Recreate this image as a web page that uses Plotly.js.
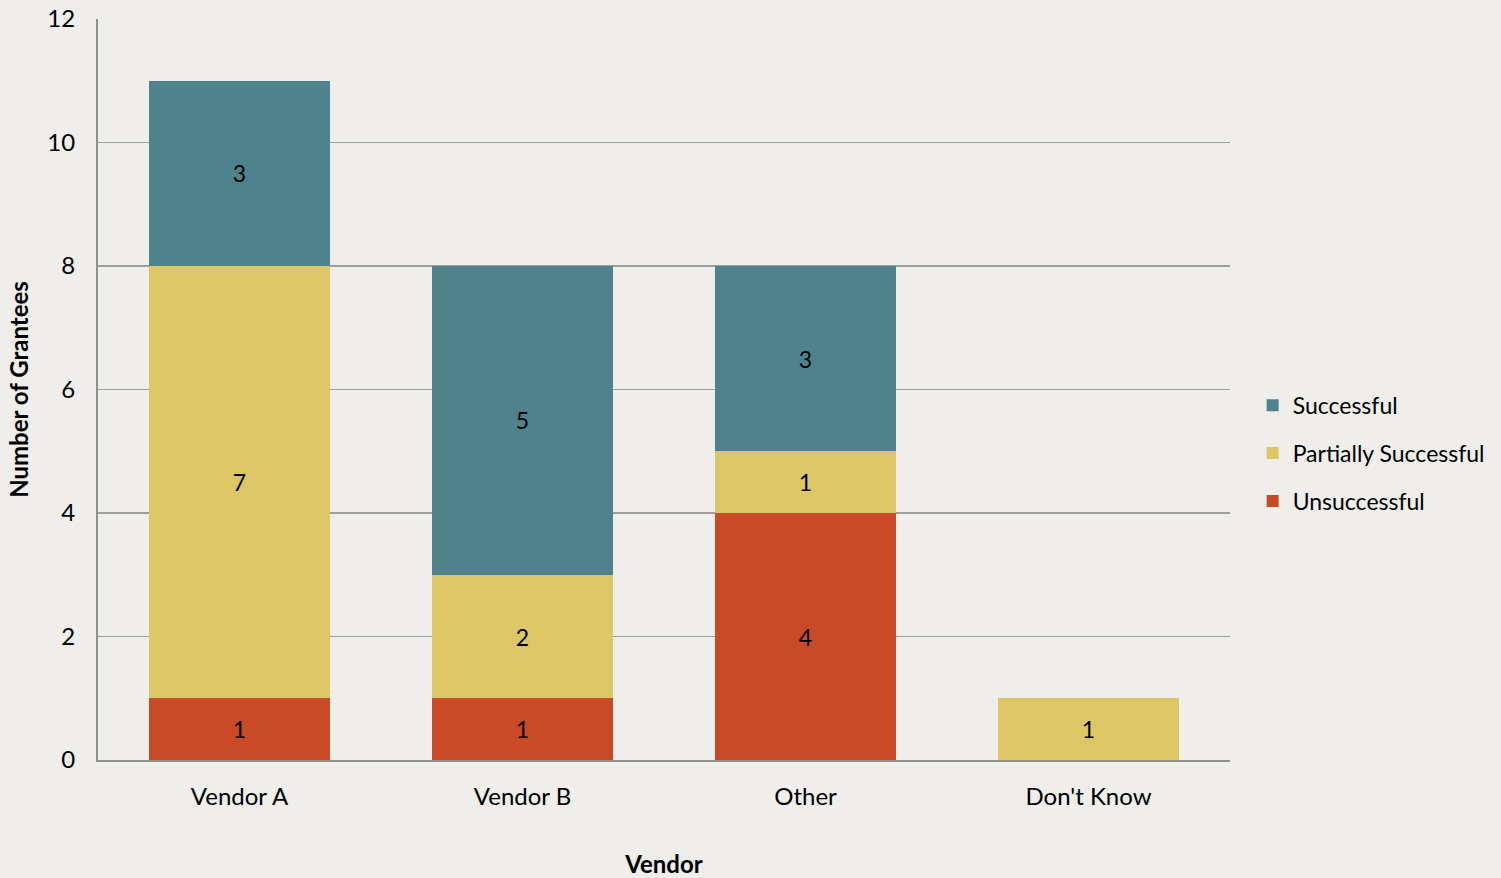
<!DOCTYPE html>
<html>
<head>
<meta charset="utf-8">
<script src="https://cdn.plot.ly/plotly-3.0.1.min.js"></script>
<style>
  html, body { margin: 0; padding: 0; background: #EFEEEA; }
  #chart { width: 1501px; height: 878px; }
</style>
</head>
<body>
<div id="chart"></div>
<script>
// Grantee outcomes by vendor
const vendors = ["Vendor A", "Vendor B", "Other", "Don't Know"];
const unsuccessful = [1, 1, 4, null];
const partiallySuccessful = [7, 2, 1, 1];
const successful = [3, 5, 3, null];
const yTicks = [0, 2, 4, 6, 8, 10, 12];

const FONT = "Lato, 'Open Sans', sans-serif";

function series(name, values, color, rank) {
  return {
    type: "bar",
    name: name,
    x: vendors,
    y: values,
    legendgroup: name,
    legendrank: rank,
    marker: { color: color, line: { width: 0 } },
    text: values.map(v => (v === null ? "" : String(v))),
    textposition: "inside",
    insidetextanchor: "middle",
    textfont: { family: FONT, size: 23, color: "#000000" },
    constraintext: "none",
    hoverinfo: "x+y+name"
  };
}

const data = [
  series("Unsuccessful", unsuccessful, "#C94A27", 3),
  series("Partially Successful", partiallySuccessful, "#DDC665", 2),
  series("Successful", successful, "#4E828C", 1)
];

const layout = {
  width: 1501,
  height: 878,
  paper_bgcolor: "#EFEEEA",
  plot_bgcolor: "#EFEEEA",
  barmode: "stack",
  bargap: 0.357,
  margin: { l: 98, r: 271, t: 19, b: 118, autoexpand: false },
  font: { family: FONT, size: 24, color: "#000000" },
  showlegend: true,
  legend: {
    x: 1.02, xanchor: "left",
    y: 0.414, yanchor: "middle",
    traceorder: "grouped",
    tracegroupgap: 15,
    font: { family: FONT, size: 23, color: "#000000" },
    bgcolor: "rgba(0,0,0,0)",
    itemwidth: 30
  },
  xaxis: {
    type: "category",
    showgrid: false,
    showline: true,
    linecolor: "#8F8F8F",
    linewidth: 2,
    ticks: "",
    ticklabelstandoff: 14,
    tickfont: { family: FONT, size: 24, color: "#000000" },
    title: {
      text: "<b>Vendor</b>",
      font: { family: FONT, size: 24, color: "#000000" },
      standoff: 55
    },
    automargin: false
  },
  yaxis: {
    range: [0, 12],
    tickvals: yTicks,
    ticktext: yTicks.map(String),
    showgrid: true,
    gridcolor: "#9E9E9E",
    gridwidth: 1.5,
    zeroline: false,
    showline: true,
    linecolor: "#8F8F8F",
    linewidth: 2,
    ticks: "",
    ticklabelstandoff: 16,
    tickfont: { family: FONT, size: 24, color: "#000000" },
    title: {
      text: "<b>Number of Grantees</b>",
      font: { family: FONT, size: 24, color: "#000000" },
      standoff: 12
    },
    automargin: false
  }
};

Plotly.newPlot("chart", data, layout, { displayModeBar: false, staticPlot: true });
</script>
</body>
</html>
